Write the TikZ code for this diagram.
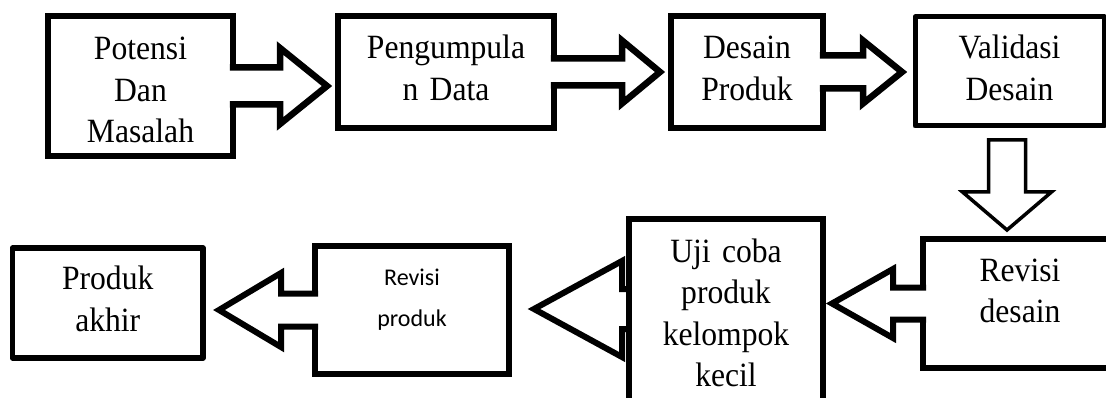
\documentclass[tikz,border=0pt]{standalone}
\usepackage{fontspec}
\setmainfont{Liberation Serif}[FakeStretch=0.93]
\newfontfamily\calibrifont{Carlito}
\usetikzlibrary{calc,backgrounds}
\begin{document}
\begin{tikzpicture}[x=1pt,y=-1pt,
  box/.style={draw, fill=white, rectangle, outer sep=0pt, inner sep=0pt,
    align=center, font=\fontsize{34}{41.5}\selectfont, text height=22},
  barrow/.style={draw, fill=white, line width=6, line join=miter, miter limit=10}]
\useasboundingbox (0,0) rectangle (1106,398);

% top row
\node[box, line width=6.5, minimum width=185, minimum height=140, text width=170, text depth=74]
  (b1) at (140.5,86) {Potensi\\Dan\\Masalah};
\draw[barrow, line width=6.5] ([shift={(-3.25,-18.5)}]b1.east) -- ++(50.25,0) -- ++(0,-19.5)
  -- ++(47,38) -- ++(-47,38) -- ++(0,-19.5) -- ++(-50.25,0);

\node[box, line width=6.5, minimum width=216, minimum height=112, text width=200, text depth=48]
  (b2) at (446,72) {Pengumpula\\n Data};
\draw[barrow, line width=6.5] ([shift={(-3.25,-13.5)}]b2.east) -- ++(71.25,0) -- ++(0,-18)
  -- ++(38,31.5) -- ++(-38,31.5) -- ++(0,-18) -- ++(-71.25,0);

\node[box, line width=6.5, minimum width=152, minimum height=112, text width=140, text depth=48]
  (b3) at (747,72) {Desain\\Produk};
\draw[barrow, line width=6.5] ([shift={(-3.25,-16.5)}]b3.east) -- ++(43.25,0) -- ++(0,-15)
  -- ++(39,31.5) -- ++(-39,31.5) -- ++(0,-15) -- ++(-43.25,0);

\node[box, line width=5, line join=round, minimum width=189, minimum height=109, text width=170, text depth=47]
  (b4) at (1009.5,71.5) {Validasi\\Desain};
\draw[draw, fill=white, line width=3.5, line join=miter] ([shift={(-21,14)}]b4.south) -- ++(37,0) -- ++(0,52)
  -- ++(26,0) -- ++(-44.5,38) -- ++(-44.5,-38) -- ++(26,0) -- cycle;

% bottom row
\node[box, line width=6, minimum width=194, minimum height=129, text width=170, text depth=67]
  (rd) at (1020,303.5) {Revisi\\desain};
\draw[barrow] ([shift={(3,-16)}]rd.west) -- ++(-33,0) -- ++(0,-18.5)
  -- ++(-61,34.5) -- ++(61,34.5) -- ++(0,-18.5) -- ++(33,0);

\node[box, line width=6, minimum width=194, minimum height=183, text width=180, text depth=119]
  (uji) at (726,310.5) {Uji coba\\produk\\kelompok\\kecil};
\begin{pgfonlayer}{background}
\draw[barrow] ([shift={(30,-21.5)}]uji.west) -- ++(-37,0) -- ++(0,-28)
  -- ++(-88,48) -- ++(88,48) -- ++(0,-28) -- ++(37,0);
\end{pgfonlayer}

\node[box, line width=6, minimum width=194, minimum height=128, text width=170,
  font=\calibrifont\fontsize{24}{41}\selectfont, text height=17, text depth=67]
  (rp) at (412,310) {Revisi\\produk};
\draw[barrow] ([shift={(3,-16.5)}]rp.west) -- ++(-37,0) -- ++(0,-20.5)
  -- ++(-62,37) -- ++(62,37) -- ++(0,-20.5) -- ++(37,0);

\node[box, line width=5.5, line join=round, minimum width=190.5, minimum height=110, text width=170, text depth=48]
  (pa) at (107.75,303) {Produk\\akhir};
\end{tikzpicture}
\end{document}
